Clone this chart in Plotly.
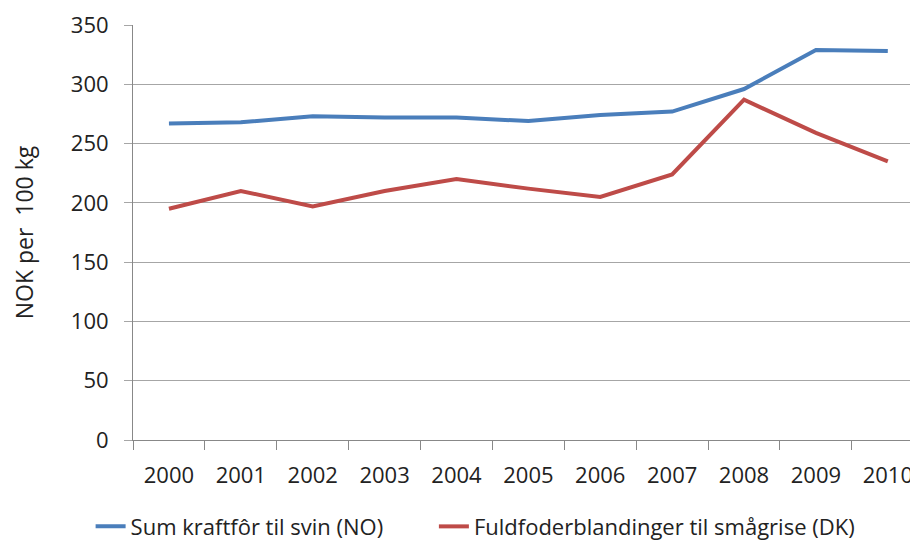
import plotly.graph_objects as go

years = ["2000", "2001", "2002", "2003", "2004", "2005", "2006", "2007", "2008", "2009", "2010"]
no_kraftfor = [267, 268, 273, 272, 272, 269, 274, 277, 296, 329, 328]
dk_fuldfoder = [195, 210, 197, 210, 220, 212, 205, 224, 287, 259, 235]

# extra non-breaking spaces widen the gap between the two legend entries
fig = go.Figure()
fig.add_trace(go.Scatter(x=years, y=no_kraftfor, mode="lines",
                         name="Sum kraftfôr til svin (NO)" + "\u00a0" * 8,
                         line=dict(color="#4a7ebb", width=4)))
fig.add_trace(go.Scatter(x=years, y=dk_fuldfoder, mode="lines",
                         name="Fuldfoderblandinger til smågrise (DK)",
                         line=dict(color="#be4b48", width=4)))

# page has an 8px body margin, so the figure is sized to the visible area
fig.update_layout(
    width=910, height=534,
    margin=dict(l=125, r=0, t=17, b=102, autoexpand=False),
    paper_bgcolor="white", plot_bgcolor="white",
    font=dict(family="Open Sans", color="#222222"),
    showlegend=True,
    legend=dict(orientation="h", x=-0.054, xanchor="left", y=-0.158, yanchor="top",
                font=dict(size=22), itemwidth=30, bgcolor="rgba(0,0,0,0)"),
    xaxis=dict(type="category", range=[-0.5, 10.42], showgrid=False, automargin=False,
               showline=True, linecolor="#888888", linewidth=1,
               ticks="outside", tickson="boundaries", ticklen=9, tickcolor="#888888",
               tickfont=dict(size=22), ticklabelstandoff=16),
    yaxis=dict(range=[0, 350], dtick=50, showgrid=True, gridcolor="#a6a6a6", gridwidth=1,
               automargin=False,
               showline=True, linecolor="#888888", linewidth=1, zeroline=False,
               ticks="outside", ticklen=8, tickcolor="#a6a6a6",
               tickfont=dict(size=22), ticklabelstandoff=11,
               title=dict(text="NOK per  100 kg", font=dict(size=23), standoff=35)),
)

fig.write_html("out.html")
